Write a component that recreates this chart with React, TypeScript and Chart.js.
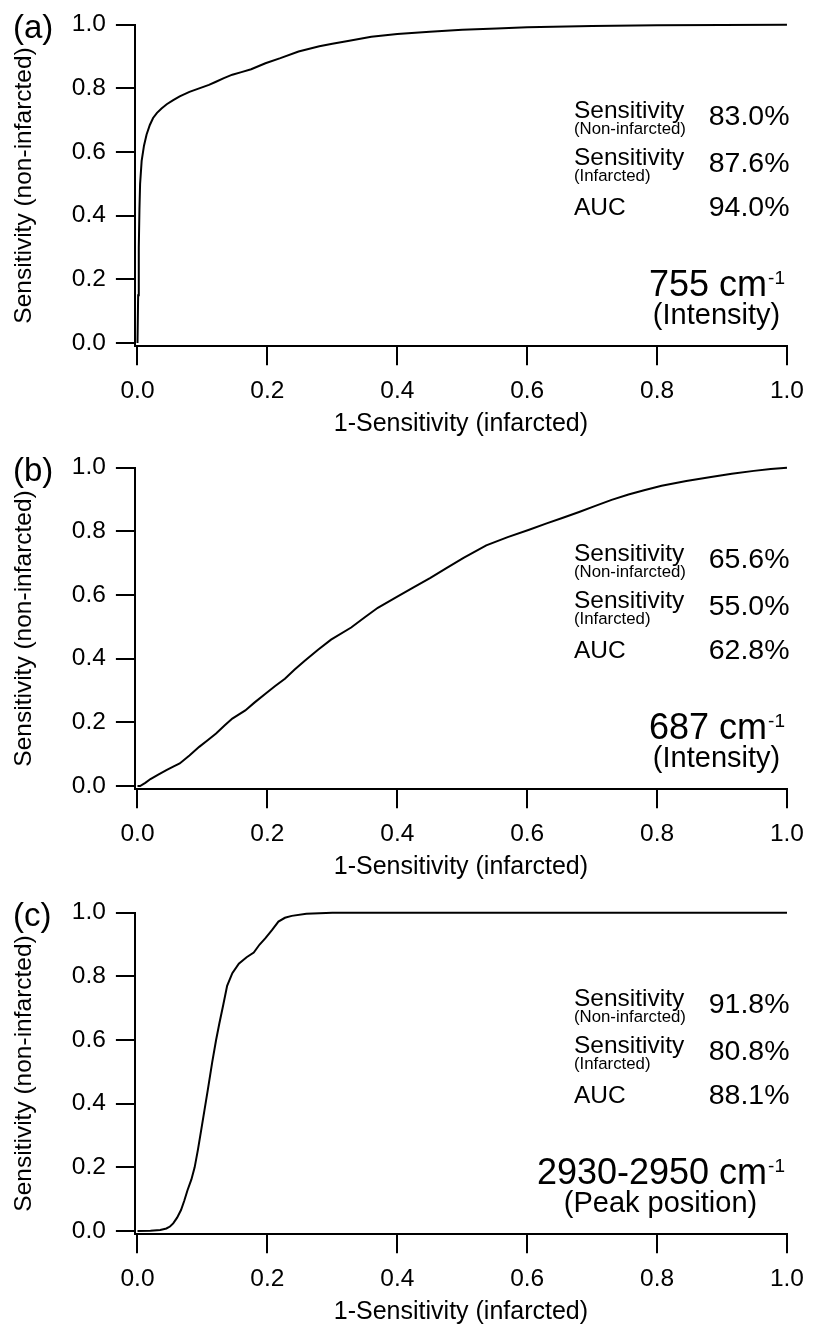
import React, { useEffect, useRef } from 'react';
import { Chart, registerables } from 'chart.js';

Chart.register(...registerables);

// ---------- data ----------
const xTickValues = [0, 0.2, 0.4, 0.6, 0.8, 1.0];
const yTickValues = [0, 0.2, 0.4, 0.6, 0.8, 1.0];
const xAxisTitle = '1-Sensitivity (infarcted)';
const yAxisTitle = 'Sensitivity (non-infarcted)';

const panelLabels = ['(a)', '(b)', '(c)'];
const wavenumbers = ['755', '687', '2930-2950'];
const measures = ['(Intensity)', '(Intensity)', '(Peak position)'];
const sensNonInfarcted = ['83.0%', '65.6%', '91.8%'];
const sensInfarcted = ['87.6%', '55.0%', '80.8%'];
const aucValues = ['94.0%', '62.8%', '88.1%'];

// (a) 755 cm-1 intensity
const rocA_x = [0, 0.001, 0.002, 0.003, 0.004, 0.0064, 0.01, 0.014, 0.019, 0.024, 0.03, 0.037, 0.045, 0.055, 0.065, 0.08, 0.095, 0.11, 0.12, 0.133, 0.146, 0.16, 0.175, 0.197, 0.22, 0.248, 0.28, 0.3, 0.324, 0.36, 0.4, 0.45, 0.5, 0.553, 0.6, 0.7, 0.8, 0.9, 1.0];
const rocA_y = [0, 0.15, 0.3, 0.42, 0.5, 0.572, 0.62, 0.655, 0.685, 0.707, 0.723, 0.737, 0.75, 0.763, 0.775, 0.789, 0.8, 0.811, 0.82, 0.832, 0.843, 0.851, 0.86, 0.879, 0.895, 0.916, 0.932, 0.94, 0.949, 0.962, 0.971, 0.978, 0.984, 0.988, 0.992, 0.996, 0.998, 0.999, 1.0];

// (b) 687 cm-1 intensity
const rocB_x = [0, 0.004, 0.012, 0.02, 0.032, 0.0445, 0.055, 0.065, 0.08, 0.095, 0.108, 0.121, 0.134, 0.146, 0.166, 0.18, 0.197, 0.212, 0.227, 0.242, 0.258, 0.278, 0.298, 0.329, 0.35, 0.37, 0.4, 0.425, 0.451, 0.475, 0.502, 0.537, 0.57, 0.603, 0.63, 0.654, 0.68, 0.705, 0.73, 0.756, 0.78, 0.807, 0.845, 0.883, 0.915, 0.949, 0.975, 1.0];
const rocB_y = [0, 0, 0.01, 0.022, 0.036, 0.05, 0.061, 0.071, 0.096, 0.123, 0.144, 0.165, 0.19, 0.212, 0.2375, 0.262, 0.29, 0.314, 0.337, 0.366, 0.394, 0.428, 0.46, 0.498, 0.53, 0.56, 0.595, 0.624, 0.654, 0.684, 0.717, 0.756, 0.782, 0.805, 0.825, 0.842, 0.861, 0.88, 0.899, 0.916, 0.929, 0.943, 0.958, 0.971, 0.981, 0.99, 0.996, 1.0];

// (c) 2930-2950 cm-1 peak position
const rocC_x = [0, 0.02, 0.035, 0.0445, 0.05, 0.055, 0.061, 0.067, 0.072, 0.077, 0.083, 0.088, 0.093, 0.098, 0.103, 0.108, 0.115, 0.121, 0.126, 0.132, 0.138, 0.146, 0.156, 0.168, 0.179, 0.188, 0.197, 0.207, 0.217, 0.227, 0.2375, 0.26, 0.3, 1.0];
const rocC_y = [0, 0.001, 0.003, 0.008, 0.014, 0.024, 0.042, 0.066, 0.095, 0.128, 0.162, 0.2, 0.255, 0.316, 0.378, 0.44, 0.53, 0.6, 0.652, 0.71, 0.77, 0.81, 0.84, 0.86, 0.875, 0.9, 0.92, 0.945, 0.972, 0.984, 0.99, 0.997, 1.0, 1.0];

const seriesX = [rocA_x, rocB_x, rocC_x];
const seriesY = [rocA_y, rocB_y, rocC_y];

// ---------- layout / style ----------
const FONT = "'Liberation Sans', Arial, Helvetica, sans-serif";
const W = 815;
const PANEL_H = 443;
const panelTops = [0, 443, 888];

function annotationPlugin(i: number) {
  return {
    id: 'rocAnnot' + i,
    afterDraw(chart: any) {
      const ctx = chart.ctx as CanvasRenderingContext2D;
      ctx.save();
      ctx.fillStyle = '#000';
      ctx.textBaseline = 'alphabetic';

      // panel label
      ctx.textAlign = 'left';
      ctx.font = `33px ${FONT}`;
      ctx.fillText(panelLabels[i], 13, 38);

      const lx = 574;
      const rx = 789.5;
      ctx.font = `24.5px ${FONT}`;
      ctx.fillText('Sensitivity', lx, 118);
      ctx.fillText('Sensitivity', lx, 165);
      ctx.fillText('AUC', lx, 214.5);
      ctx.font = `16.8px ${FONT}`;
      ctx.fillText('(Non-infarcted)', lx, 134);
      ctx.fillText('(Infarcted)', lx, 180.5);

      ctx.textAlign = 'right';
      ctx.font = `28.5px ${FONT}`;
      ctx.fillText(sensNonInfarcted[i], rx, 125);
      ctx.fillText(sensInfarcted[i], rx, 171.5);
      ctx.fillText(aucValues[i], rx, 216);

      // wavenumber line with superscript
      const mainText = wavenumbers[i] + ' cm';
      ctx.font = `36px ${FONT}`;
      const mw = ctx.measureText(mainText).width;
      ctx.font = `19px ${FONT}`;
      const sw = ctx.measureText('-1').width;
      const right = 785;
      const startX = right - sw - mw - 1;
      const mainBase = 296;
      ctx.textAlign = 'left';
      ctx.font = `36px ${FONT}`;
      ctx.fillText(mainText, startX, mainBase);
      ctx.font = `19px ${FONT}`;
      ctx.fillText('-1', startX + mw + 1, mainBase - 12);
      const center = startX + (mw + sw) / 2;
      ctx.textAlign = 'center';
      ctx.font = `29px ${FONT}`;
      ctx.fillText(measures[i], center, 324);

      ctx.restore();
    },
  };
}

function buildConfig(i: number): any {
  const points = seriesX[i].map((x, k) => ({ x, y: seriesY[i][k] }));
  return {
    type: 'scatter',
    data: {
      datasets: [
        {
          data: points,
          showLine: true,
          borderColor: '#000',
          backgroundColor: '#000',
          borderWidth: 2,
          pointRadius: 0,
          pointHoverRadius: 0,
          fill: false,
          tension: 0,
          clip: false,
        },
      ],
    },
    options: {
      animation: false,
      responsive: false,
      maintainAspectRatio: false,
      events: [],
      layout: { padding: { top: 23, right: 21.5, left: 0, bottom: 0 } },
      plugins: { legend: { display: false }, tooltip: { enabled: false }, title: { display: false } },
      scales: {
        x: {
          type: 'linear',
          min: -0.004,
          max: 1.0,
          afterBuildTicks: (s: any) => {
            s.ticks = xTickValues.map((v) => ({ value: v }));
          },
          afterFit: (s: any) => {
            s.height = 96.8;
          },
          ticks: {
            callback: (v: any) => Number(v).toFixed(1),
            font: { family: FONT, size: 24.5 },
            color: '#000',
            padding: 11,
            maxRotation: 0,
            minRotation: 0,
            autoSkip: false,
          },
          grid: { drawOnChartArea: false, drawTicks: true, tickLength: 19, color: '#000', lineWidth: 2 },
          border: { display: true, color: '#000', width: 2 },
          title: {
            display: true,
            text: xAxisTitle,
            color: '#000',
            font: { family: FONT, size: 25 },
            padding: { top: 0, bottom: 4 },
          },
        },
        y: {
          type: 'linear',
          min: -0.01,
          max: 1.0,
          afterBuildTicks: (s: any) => {
            s.ticks = yTickValues.map((v) => ({ value: v }));
          },
          afterFit: (s: any) => {
            s.width = 134.9;
          },
          ticks: {
            callback: (v: any) => Number(v).toFixed(1),
            font: { family: FONT, size: 24.5 },
            color: '#000',
            padding: 10,
            autoSkip: false,
          },
          grid: { drawOnChartArea: false, drawTicks: true, tickLength: 19, color: '#000', lineWidth: 2 },
          border: { display: true, color: '#000', width: 2 },
          title: {
            display: true,
            text: yAxisTitle,
            color: '#000',
            font: { family: FONT, size: 24.5 },
            padding: { top: 10, bottom: 0 },
          },
        },
      },
    },
    plugins: [annotationPlugin(i)],
  };
}

function RocPanel({ index }: { index: number }) {
  const ref = useRef<HTMLCanvasElement>(null);
  useEffect(() => {
    if (!ref.current) return;
    const chart = new Chart(ref.current, buildConfig(index));
    return () => {
      chart.destroy();
    };
  }, [index]);
  return (
    <canvas
      ref={ref}
      width={W}
      height={PANEL_H}
      style={{ position: 'absolute', left: 0, top: panelTops[index], width: W, height: PANEL_H, display: 'block' }}
    />
  );
}

export default function App() {
  return (
    <div
      style={{
        position: 'absolute',
        left: 0,
        top: 0,
        width: W,
        height: 1324,
        overflow: 'hidden',
        background: '#fff',
      }}
    >
      {panelLabels.map((_, i) => (
        <RocPanel key={i} index={i} />
      ))}
    </div>
  );
}
